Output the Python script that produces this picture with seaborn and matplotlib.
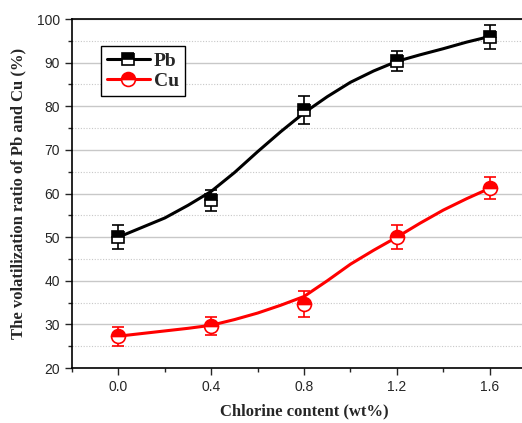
import numpy as np
import pandas as pd
import matplotlib
matplotlib.use('Agg')
import matplotlib.pyplot as plt
import seaborn as sns
from matplotlib.lines import Line2D
from matplotlib.ticker import MultipleLocator

# measured points (mean +/- error)
chlorine = [0.0, 0.4, 0.8, 1.2, 1.6]
pb_mean = [50.0, 58.5, 79.2, 90.4, 95.9]
pb_err = [2.8, 2.4, 3.2, 2.2, 2.7]
cu_mean = [27.3, 29.6, 34.6, 50.0, 61.2]
cu_err = [2.2, 2.0, 3.0, 2.8, 2.5]

# smooth fitted curves
curve_x = [0.0, 0.1, 0.2, 0.3, 0.4, 0.5, 0.6, 0.7, 0.8, 0.9, 1.0, 1.1, 1.2, 1.3, 1.4, 1.5, 1.6]
pb_curve = [50.0, 52.2, 54.4, 57.3, 60.5, 64.8, 69.6, 74.2, 78.5, 82.2, 85.5, 88.1, 90.3, 91.8, 93.2, 94.7, 96.0]
cu_curve = [27.3, 27.9, 28.5, 29.1, 29.8, 31.1, 32.6, 34.4, 36.4, 40.0, 43.8, 47.0, 50.0, 53.2, 56.2, 58.8, 61.2]

sns.set_style('white')
plt.rcParams['font.family'] = ['Liberation Sans', 'DejaVu Sans']

fig = plt.figure(figsize=(5.22, 4.23), dpi=100)
ax = fig.add_axes([0.138, 0.130, 0.889, 0.825])

curves = pd.DataFrame({'x': curve_x + curve_x,
                       'y': pb_curve + cu_curve,
                       'metal': ['Pb'] * len(curve_x) + ['Cu'] * len(curve_x)})
sns.lineplot(data=curves, x='x', y='y', hue='metal', palette={'Pb': 'black', 'Cu': 'red'},
             linewidth=2.2, legend=False, ax=ax, zorder=3)

ax.errorbar(chlorine, pb_mean, yerr=pb_err, fmt='s', color='black', mfc='black',
            mec='black', mfcalt='white', fillstyle='top', ms=9, mew=1.2,
            ecolor='black', elinewidth=1.2, capsize=4, capthick=1.2, zorder=4)
ax.errorbar(chlorine, cu_mean, yerr=cu_err, fmt='o', color='red', mfc='red',
            mec='red', mfcalt='white', fillstyle='top', ms=10, mew=1.2,
            ecolor='red', elinewidth=1.2, capsize=4, capthick=1.2, zorder=4)

ax.set_xlim(-0.2, 1.8)
ax.set_ylim(20, 100)
ax.set_xticks(chlorine)
ax.set_xticklabels(['0.0', '0.4', '0.8', '1.2', '1.6'])
ax.xaxis.set_minor_locator(MultipleLocator(0.2))
ax.yaxis.set_major_locator(MultipleLocator(10))
ax.yaxis.set_minor_locator(MultipleLocator(5))
ax.tick_params(which='major', direction='out', length=5, width=1, labelsize=10,
               left=True, bottom=True, top=False, right=False)
ax.tick_params(which='minor', direction='out', length=3, width=1,
               left=True, bottom=True, top=False, right=False)

ax.grid(axis='y', which='major', color='#c8c8c8', linewidth=1.0, linestyle='-')
ax.grid(axis='y', which='minor', color='#c8c8c8', linewidth=0.8, linestyle=(0, (1, 1.5)))
ax.set_axisbelow(True)
for s in ax.spines.values():
    s.set_color('black')
    s.set_linewidth(1.2)
ax.spines['right'].set_visible(False)

ax.set_xlabel('Chlorine content (wt%)', family='Liberation Serif', weight='bold',
              fontsize=12, labelpad=7)
ax.set_ylabel('The volatilization ratio of Pb and Cu (%)', family='Liberation Serif',
              weight='bold', fontsize=12, labelpad=8)

handles = [Line2D([], [], color='black', lw=2.2, marker='s', ms=9, mfc='black', mec='black',
                  mfcalt='white', fillstyle='top', mew=1.2),
           Line2D([], [], color='red', lw=2.2, marker='o', ms=10, mfc='red', mec='red',
                  mfcalt='white', fillstyle='top', mew=1.2)]
leg = ax.legend(handles, ['Pb', 'Cu'], loc='upper left', bbox_to_anchor=(0.063, 0.922),
                borderaxespad=0,
                prop={'family': 'Liberation Serif', 'weight': 'bold', 'size': 14},
                frameon=True, fancybox=False, edgecolor='black', framealpha=1,
                handlelength=2.2, borderpad=0.3, labelspacing=0.15, handletextpad=0.2)
leg.get_frame().set_linewidth(1.0)

fig.savefig('out.png', dpi=100)
